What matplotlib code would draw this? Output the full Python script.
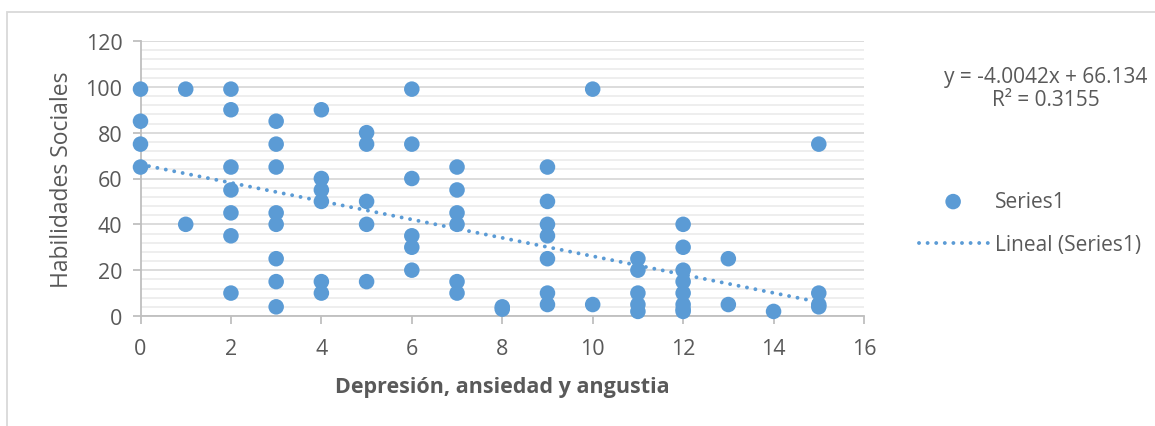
import matplotlib.pyplot as plt
from matplotlib.patches import Rectangle
import numpy as np

# data
x_vals = [0, 0, 0, 0,
          1, 1,
          2, 2, 2, 2, 2, 2, 2,
          3, 3, 3, 3, 3, 3, 3, 3,
          4, 4, 4, 4, 4, 4,
          5, 5, 5, 5, 5,
          6, 6, 6, 6, 6, 6,
          7, 7, 7, 7, 7, 7,
          8, 8,
          9, 9, 9, 9, 9, 9, 9,
          10, 10,
          11, 11, 11, 11, 11,
          12, 12, 12, 12, 12, 12, 12, 12,
          13, 13,
          14,
          15, 15, 15, 15]
y_vals = [99, 85, 75, 65,
          99, 40,
          99, 90, 65, 55, 45, 35, 10,
          85, 75, 65, 45, 40, 25, 15, 4,
          90, 60, 55, 50, 15, 10,
          80, 75, 50, 40, 15,
          99, 75, 60, 35, 30, 20,
          65, 55, 45, 40, 15, 10,
          4, 3,
          65, 50, 40, 35, 25, 10, 5,
          99, 5,
          25, 20, 10, 5, 2,
          40, 30, 20, 15, 10, 5, 3, 2,
          25, 5,
          2,
          75, 10, 5, 4]
slope = -4.0042
intercept = 66.134
eq_text = 'y = -4.0042x + 66.134\nR² = 0.3155'

blue = '#5B9BD5'
grey_txt = '#595959'
plt.rcParams['font.family'] = ['Open Sans', 'DejaVu Sans']

fig = plt.figure(figsize=(11.55, 4.27), dpi=100)
ax = fig.add_axes([140.5 / 1155, 110 / 427, (864 - 140.5) / 1155, (317 - 42) / 427])

# chart area border (top and left visible)
fig.patches.append(Rectangle((7 / 1155, -0.1), 1.2, (427 - 13) / 427 + 0.1,
                             transform=fig.transFigure, fill=False,
                             edgecolor='#D9D9D9', linewidth=1.3))

ax.scatter(x_vals, y_vals, s=125, color=blue, zorder=3, label='Series1',
           edgecolors='none', clip_on=False)
tx = np.array([min(x_vals), max(x_vals)])
ax.plot(tx, slope * tx + intercept, color=blue, linewidth=2.8,
        linestyle=(0, (0.01, 2.2)), dash_capstyle='round', zorder=4,
        label='Lineal (Series1)', clip_on=False)

ax.set_xlim(0, 16)
ax.set_ylim(0, 120)
ax.set_xticks(np.arange(0, 17, 2))
ax.set_yticks(np.arange(0, 121, 20))
ax.set_yticks(np.arange(0, 121, 4), minor=True)
ax.grid(axis='y', which='major', color='#D9D9D9', linewidth=1.3, zorder=1)
ax.grid(axis='y', which='minor', color='#EDEDED', linewidth=1.3, zorder=0)
ax.set_axisbelow(True)

for s in ['top', 'right']:
    ax.spines[s].set_visible(False)
for s in ['left', 'bottom']:
    ax.spines[s].set_color('#BFBFBF')
    ax.spines[s].set_linewidth(1.3)
ax.tick_params(axis='both', which='major', length=6, width=1.3, color='#BFBFBF',
               labelsize=15.5, labelcolor=grey_txt, pad=7)
ax.tick_params(axis='y', which='minor', length=0)
ax.tick_params(axis='x', pad=10)

ax.set_xlabel('Depresión, ansiedad y angustia', fontsize=15.5, fontweight='bold',
              color=grey_txt, labelpad=12)
ax.set_ylabel('Habilidades Sociales', fontsize=16.5, color=grey_txt, labelpad=8)

fig.text(1046 / 1155, (427 - 89) / 427, eq_text, ha='center', va='center',
         fontsize=15, color=grey_txt, linespacing=1.1)

leg = ax.legend(loc='center left', bbox_to_anchor=(900 / 1155, (427 - 224) / 427),
                bbox_transform=fig.transFigure, frameon=False, fontsize=15,
                handlelength=3.3, handletextpad=0.35, labelspacing=1.05,
                labelcolor=grey_txt)

fig.savefig('out.png', dpi=100)
